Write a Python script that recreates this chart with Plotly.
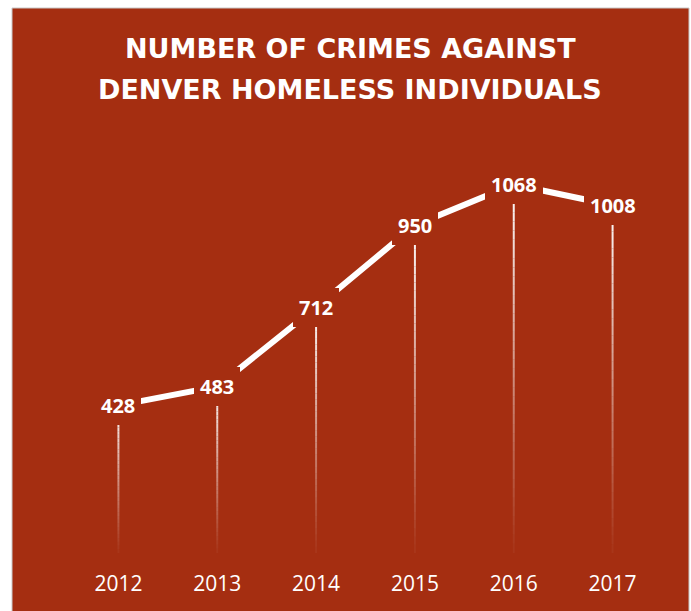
import plotly.graph_objects as go

# ---- data ----
years = ["2012", "2013", "2014", "2015", "2016", "2017"]
crimes = [428, 483, 712, 950, 1068, 1008]
title_lines = ["NUMBER OF CRIMES AGAINST", "DENVER HOMELESS INDIVIDUALS"]

BG = "#A52E11"
FONT = "Open Sans"

W, H = 691, 611
ML, MR, MT, MB = 69, 29, 150, 58
PW = W - ML - MR
PH = H - MT - MB
YMAX = 1168


def px_x(p):
    return (p - ML) / PW


def px_y(p):
    return (H - MB - p) / PH


fig = go.Figure()

# gradient drop lines (white at the point, fading toward the axis)
N = 40
idx = list(range(len(years)))
for k in range(N):
    xs, ys = [], []
    for i, v in zip(idx, crimes):
        xs += [i, i, None]
        ys += [v * k / N, v * (k + 1) / N, None]
    alpha = 0.03 + 0.97 * ((k + 0.5) / N) ** 1.1
    fig.add_trace(go.Scatter(
        x=xs, y=ys, mode="lines",
        line=dict(color=f"rgba(255,255,255,{alpha:.3f})", width=2),
        hoverinfo="skip", showlegend=False,
    ))

# main line
fig.add_trace(go.Scatter(
    x=idx, y=crimes, mode="lines",
    line=dict(color="white", width=6),
    showlegend=False,
))

# data labels with opaque background (hide line under them)
for i, v in zip(idx, crimes):
    fig.add_annotation(
        x=i, y=v, xref="x", yref="y", text=f"<b>{v}</b>", showarrow=False,
        font=dict(family=FONT, size=20, color="white"),
        bgcolor=BG, borderpad=6, borderwidth=0,
        xanchor="center", yanchor="middle",
    )

# title lines
for line, py in zip(title_lines, [49, 89]):
    fig.add_annotation(
        x=px_x(350), y=px_y(py), xref="paper", yref="paper",
        text=f"<b>{line}</b>", showarrow=False,
        font=dict(family="DejaVu Sans", size=27, color="white"),
        xanchor="center", yanchor="middle",
    )

# chart area background box
fig.add_shape(
    type="rect", xref="paper", yref="paper",
    x0=px_x(12), x1=px_x(689), y0=px_y(H + 4), y1=px_y(8),
    fillcolor=BG, line=dict(color="#C8C8C8", width=1), layer="below",
)

fig.update_layout(
    width=W, height=H,
    margin=dict(l=ML, r=MR, t=MT, b=MB, pad=0),
    paper_bgcolor="white", plot_bgcolor="rgba(0,0,0,0)",
    showlegend=False,
    xaxis=dict(
        range=[-0.5, 5.5], tickmode="array", tickvals=idx, ticktext=years,
        showgrid=False, zeroline=False, showline=False,
        ticks="outside", ticklen=12, tickcolor="rgba(0,0,0,0)",
        tickfont=dict(family=FONT, size=21, color="white"),
        fixedrange=True,
    ),
    yaxis=dict(range=[0, YMAX], visible=False, fixedrange=True),
)

fig.write_html(
    "out.html",
    config={"displayModeBar": False},
    post_script="document.body.style.margin='0';document.body.style.overflow='hidden';",
)
